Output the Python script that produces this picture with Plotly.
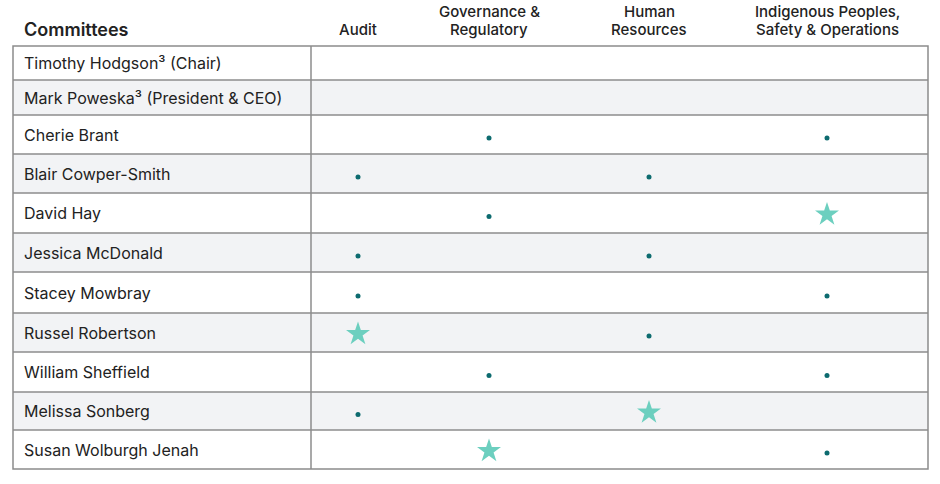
import plotly.graph_objects as go

# ---------------- data ----------------
members = [
    "Timothy Hodgson³ (Chair)",
    "Mark Poweska³ (President & CEO)",
    "Cherie Brant",
    "Blair Cowper-Smith",
    "David Hay",
    "Jessica McDonald",
    "Stacey Mowbray",
    "Russel Robertson",
    "William Sheffield",
    "Melissa Sonberg",
    "Susan Wolburgh Jenah",
]
committees = [
    ["Audit"],
    ["Governance &", "Regulatory"],
    ["Human", "Resources"],
    ["Indigenous Peoples,", "Safety & Operations"],
]
# "M" = member, "C" = committee chair, "" = not a member
audit = ["", "", "", "M", "", "M", "M", "C", "", "M", ""]
governance = ["", "", "M", "", "M", "", "", "", "M", "", "C"]
human_resources = ["", "", "", "M", "", "M", "", "M", "", "C", ""]
indigenous = ["", "", "M", "", "C", "", "M", "", "M", "", "M"]
roles = [audit, governance, human_resources, indigenous]

# ---------------- layout constants (pixels) ----------------
W, H = 940, 484
TABLE_L, TABLE_R = 13, 928
DIV_X = 311
ROW_EDGES = [46, 80, 115, 154, 193, 233, 272, 313, 352, 392, 430, 469]
COL_X = [358, 489, 649, 827]
NAME_X = 22
HEAD_LAST_Y = 29
HEAD_LINE = 17.5
DOT_DY = 3.5
STAR_DY = 1.5
TEXT = "#222222"
GRID = "#8c8c8c"
SHADE = "#f2f3f5"
DOT = "#0d6b6f"
STAR = "#6ccfbf"
FONT = "Inter"

n = len(members)
centers = [(ROW_EDGES[i] + ROW_EDGES[i + 1]) / 2 for i in range(n)]
fig = go.Figure()

# markers
dot_x, dot_y, star_x, star_y = [], [], [], []
for ci, col in enumerate(roles):
    for ri, r in enumerate(col):
        if r == "M":
            dot_x.append(COL_X[ci]); dot_y.append(centers[ri] + DOT_DY)
        elif r == "C":
            star_x.append(COL_X[ci]); star_y.append(centers[ri] + STAR_DY)

fig.add_trace(go.Scatter(x=dot_x, y=dot_y, mode="markers",
                         marker=dict(symbol="circle", size=5, color=DOT),
                         hoverinfo="skip", showlegend=False))
fig.add_trace(go.Scatter(x=star_x, y=star_y, mode="markers",
                         marker=dict(symbol="star", size=18, color=STAR,
                                     line=dict(width=0)),
                         hoverinfo="skip", showlegend=False))

shapes = []
for i in range(n):
    if i % 2 == 1:
        shapes.append(dict(type="rect", xref="x", yref="y", x0=TABLE_L, x1=TABLE_R,
                           y0=ROW_EDGES[i], y1=ROW_EDGES[i + 1], fillcolor=SHADE,
                           line=dict(width=0), layer="below"))
for e in ROW_EDGES[1:-1]:
    shapes.append(dict(type="line", xref="x", yref="y", x0=TABLE_L, x1=TABLE_R,
                       y0=e, y1=e, line=dict(color=GRID, width=1.5), layer="below"))
shapes.append(dict(type="line", xref="x", yref="y", x0=DIV_X, x1=DIV_X,
                   y0=ROW_EDGES[0], y1=ROW_EDGES[-1], line=dict(color=GRID, width=1.5),
                   layer="below"))
shapes.append(dict(type="rect", xref="x", yref="y", x0=TABLE_L, x1=TABLE_R,
                   y0=ROW_EDGES[0], y1=ROW_EDGES[-1], line=dict(color=GRID, width=1.5),
                   fillcolor="rgba(0,0,0,0)", layer="below"))

annotations = []
for i, name in enumerate(members):
    annotations.append(dict(x=NAME_X, y=centers[i], xref="x", yref="y", text=name,
                            showarrow=False, xanchor="left", yanchor="middle",
                            font=dict(family=FONT, size=16, color=TEXT)))
for ci, lines in enumerate(committees):
    for k, line in enumerate(reversed(lines)):
        annotations.append(dict(x=COL_X[ci], y=HEAD_LAST_Y - k * HEAD_LINE,
                                xref="x", yref="y", text=line,
                                showarrow=False, xanchor="center", yanchor="middle",
                                font=dict(family=FONT, size=15, color=TEXT, weight=500)))
annotations.append(dict(x=NAME_X, y=HEAD_LAST_Y, xref="x", yref="y", text="Committees",
                        showarrow=False, xanchor="left", yanchor="middle",
                        font=dict(family=FONT, size=18, color=TEXT, weight=600)))

fig.update_layout(
    width=W, height=H,
    margin=dict(l=0, r=0, t=0, b=0),
    paper_bgcolor="white", plot_bgcolor="white",
    xaxis=dict(range=[0, W], visible=False, fixedrange=True),
    yaxis=dict(range=[H, 0], visible=False, fixedrange=True),
    shapes=shapes, annotations=annotations,
)
fig.write_html("out.html", config={"displayModeBar": False},
               post_script="document.body.style.margin='0';")
